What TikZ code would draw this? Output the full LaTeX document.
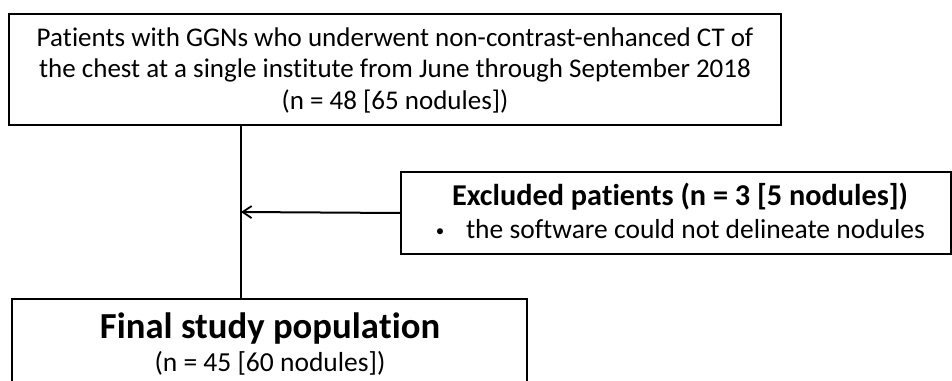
\documentclass[tikz,border=0pt]{standalone}
\usepackage{fontspec}
\usepackage{graphicx}
\setmainfont{Carlito}[Ligatures={NoCommon,NoContextual}]
\usetikzlibrary{arrows.meta}
\begin{document}
\begin{tikzpicture}[x=1pt,y=-1pt,
  box/.style={draw,line width=2pt,inner sep=0pt,outer sep=0pt},
  txt/.style={inner sep=0pt,outer sep=0pt,anchor=base,font=\fontsize{27}{31}\selectfont},
  conn/.style={line width=2pt}]
\useasboundingbox (0,0) rectangle (952,380);
\clip (0,0) rectangle (952,380);
% boxes
\draw[box] (9,14) rectangle (781,125);
\node[inner sep=0pt,outer sep=0pt,minimum width=772pt,minimum height=111pt] (top) at (395,69.5) {};
\draw[box] (401,172) rectangle (951,254);
\node[inner sep=0pt,outer sep=0pt,minimum width=550pt,minimum height=82pt] (excl) at (676,213) {};
\draw[box] (12,299) rectangle (527,420);
\node[inner sep=0pt,outer sep=0pt,minimum width=515pt,minimum height=121pt] (final) at (269.5,359.5) {};
% texts of the first box
\node[txt] (t1) at (395,46) {Pa\kern0pt tients with GGNs who underwent non-contrast-enhanced CT of};
\node[txt] (t2) at (395,77.5) {the chest at a single institute from June through September 2018};
\node[txt] (t3) at (395,109) {(n = 48 [65 nodules])};
% texts of the excluded box
\node[txt] (e1) at (680,205) {\resizebox{456pt}{!}{\bfseries Excluded pa\kern0pt tients (n = 3 [5 nodules])}};
\node[txt,font=\fontsize{17}{20}\selectfont] (ebul) at (440,236) {•};
\node[txt,anchor=base west,font=\fontsize{27.5}{31}\selectfont] (e2) at (466,238) {the software could not delineate nodules};
% texts of the final box
\node[txt] (f1) at (270,338) {\resizebox{340pt}{!}{\bfseries Final study popula\kern0pt tion}};
\node[txt,font=\fontsize{27.5}{31}\selectfont] (f2) at (270,371) {(n = 45 [60 nodules])};
% connectors
\coordinate (mid) at (241,212);
\draw[conn] (top.south -| mid) -- (final.north -| mid);
\draw[conn,-{Straight Barb[length=9pt,width=12pt,line width=1.8pt]}] (excl.west) -- (mid);
\end{tikzpicture}
\end{document}
